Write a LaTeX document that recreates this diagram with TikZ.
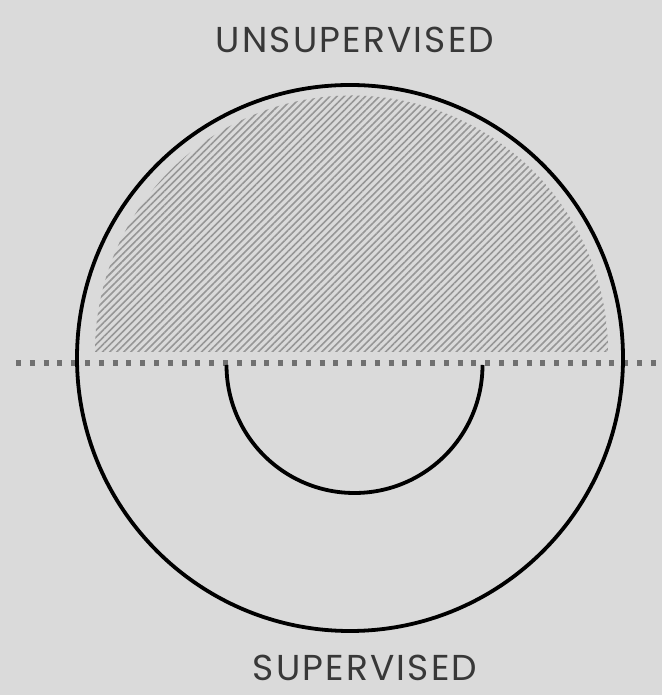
\documentclass[tikz,border=0pt]{standalone}
\usepackage{fontspec}
\setmainfont{Poppins}
\usepackage{xcolor}
\usetikzlibrary{patterns.meta}
\definecolor{bggray}{HTML}{DADADA}
\definecolor{txtgray}{HTML}{383838}
\definecolor{dotgray}{HTML}{707070}
\definecolor{hatchgray}{HTML}{969696}

\begin{document}
\begin{tikzpicture}[x=1pt, y=1pt, ring/.style={draw=black, line width=3.8pt},
  lbl/.style={text=txtgray, inner sep=0pt, anchor=base,
    font=\fontsize{36}{38}\selectfont\addfontfeatures{LetterSpace=6}}]
\fill[bggray] (0,0) rectangle (662,695);
\useasboundingbox (0,0) rectangle (662,695);
\coordinate (O) at (350,337);
\coordinate (H) at (351.5,343);
\coordinate (S) at (354.5,330);
\fill[pattern={Lines[angle=45, distance=5pt, line width=1.6pt]}, pattern color=hatchgray]
  ([xshift=-256.5pt]H) arc[start angle=180, end angle=0, radius=256.5] -- cycle;
\draw[dotgray, line width=5.5pt, dash pattern=on 5pt off 8.8pt] (16,332) -- (662,332);
\draw[ring] (O) circle[radius=273];
\draw[ring] ([xshift=-128pt]S) arc[start angle=180, end angle=360, radius=128];
\node[lbl] (unsup) at (355,642) {UNSUPERVISED};
\node[lbl] (sup) at (365,14) {SUPERVISED};
\end{tikzpicture}
\end{document}
